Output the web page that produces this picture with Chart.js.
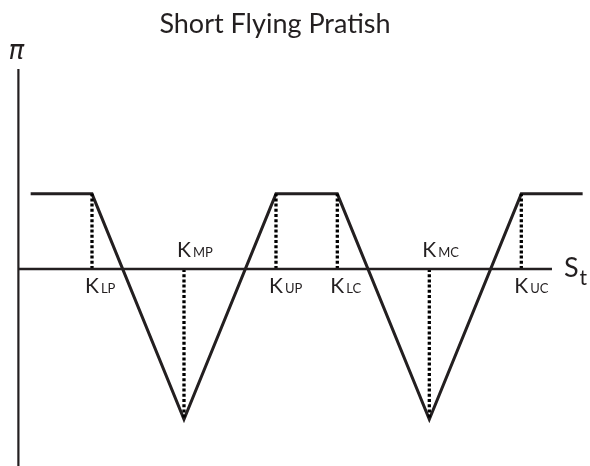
<!DOCTYPE html>
<html><head><meta charset="utf-8">
<script src="https://cdn.jsdelivr.net/npm/chart.js@4"></script>
<style>html,body{margin:0;padding:0;background:#fff}#wrap{width:590px;height:466px;position:relative}</style>
</head><body><div id="wrap"><canvas id="c"></canvas></div>
<script>
const titleText = 'Short Flying Pratish';
const yAxisLabel = 'π';
const xAxisLabel = 'S';
const xAxisSub = 't';
const strikeNames = ['LP','MP','UP','LC','MC','UC'];
const strikes = [30,45,60,70,85,100];
const labelAbove = [false,true,false,false,true,false];
const payoffX = [20,30,45,60,70,85,100,110];
const payoffY = [5,5,-10,5,5,-10,5,5];
const axisX = [18,105];
const yRange = [-13.1,13.3];
const xRange = [15,111.2];

const INK = '#231f20';
const FONT = 'Lato, "Open Sans", sans-serif';

const payoffData = payoffX.map((x,i)=>({x, y: payoffY[i]}));
const datasets = [];
datasets.push({data: axisX.map(x=>({x,y:0})), borderColor: INK, borderWidth: 2.5, pointRadius: 0, showLine: true, clip: false});
datasets.push({data: yRange.map(y=>({x: axisX[0], y})), borderColor: INK, borderWidth: 2.2, pointRadius: 0, showLine: true, clip: false});
strikes.forEach(k=>{
  const v = payoffY[payoffX.indexOf(k)];
  datasets.push({data: [{x:k,y:0},{x:k,y:v}], borderColor: '#000', borderWidth: 3.3, borderDash: [3,2.2], pointRadius: 0, showLine: true, clip: false});
});
datasets.push({data: payoffData, borderColor: INK, borderWidth: 3, pointRadius: 0, showLine: true, tension: 0, borderJoinStyle: 'miter', clip: false});

const labelPlugin = {
  id: 'labels',
  afterDraw(chart){
    const {ctx, scales:{x, y}} = chart;
    ctx.save();
    ctx.fillStyle = INK;
    ctx.textBaseline = 'alphabetic';
    ctx.textAlign = 'left';
    const y0 = y.getPixelForValue(0);
    strikes.forEach((k,i)=>{
      const px = x.getPixelForValue(k);
      const base = labelAbove[i] ? y0 - 12 : y0 + 24;
      const left = px - 7;
      ctx.font = '21px ' + FONT;
      ctx.fillText('K', left, base);
      const w = ctx.measureText('K').width;
      ctx.font = '13px ' + FONT;
      ctx.fillText(strikeNames[i], left + w + 2, base);
    });
    const ax = x.getPixelForValue(axisX[0]);
    ctx.font = 'italic 26px "DejaVu Sans", sans-serif';
    ctx.fillText(yAxisLabel, ax - 10, y.top - 10);
    const ex = x.getPixelForValue(axisX[1]);
    ctx.font = '27px ' + FONT;
    ctx.fillText(xAxisLabel, ex + 12, y0 + 8);
    const sw = ctx.measureText(xAxisLabel).width;
    ctx.font = '21px ' + FONT;
    ctx.fillText(xAxisSub, ex + 12 + sw + 1, y0 + 16);
    ctx.font = '27px ' + FONT;
    ctx.textAlign = 'center';
    ctx.fillText(titleText, 275, 33);
    ctx.restore();
  }
};

new Chart(document.getElementById('c'), {
  type: 'scatter',
  data: {datasets},
  options: {
    responsive: true,
    maintainAspectRatio: false,
    animation: false,
    events: [],
    layout: {padding: {top: 69, left: 0, right: 0, bottom: 0}},
    plugins: {
      legend: {display: false},
      tooltip: {enabled: false},
      title: {display: false}
    },
    scales: {
      x: {type: 'linear', display: false, min: xRange[0], max: xRange[1]},
      y: {type: 'linear', display: false, min: yRange[0], max: yRange[1]}
    }
  },
  plugins: [labelPlugin]
});
</script>
</body></html>
